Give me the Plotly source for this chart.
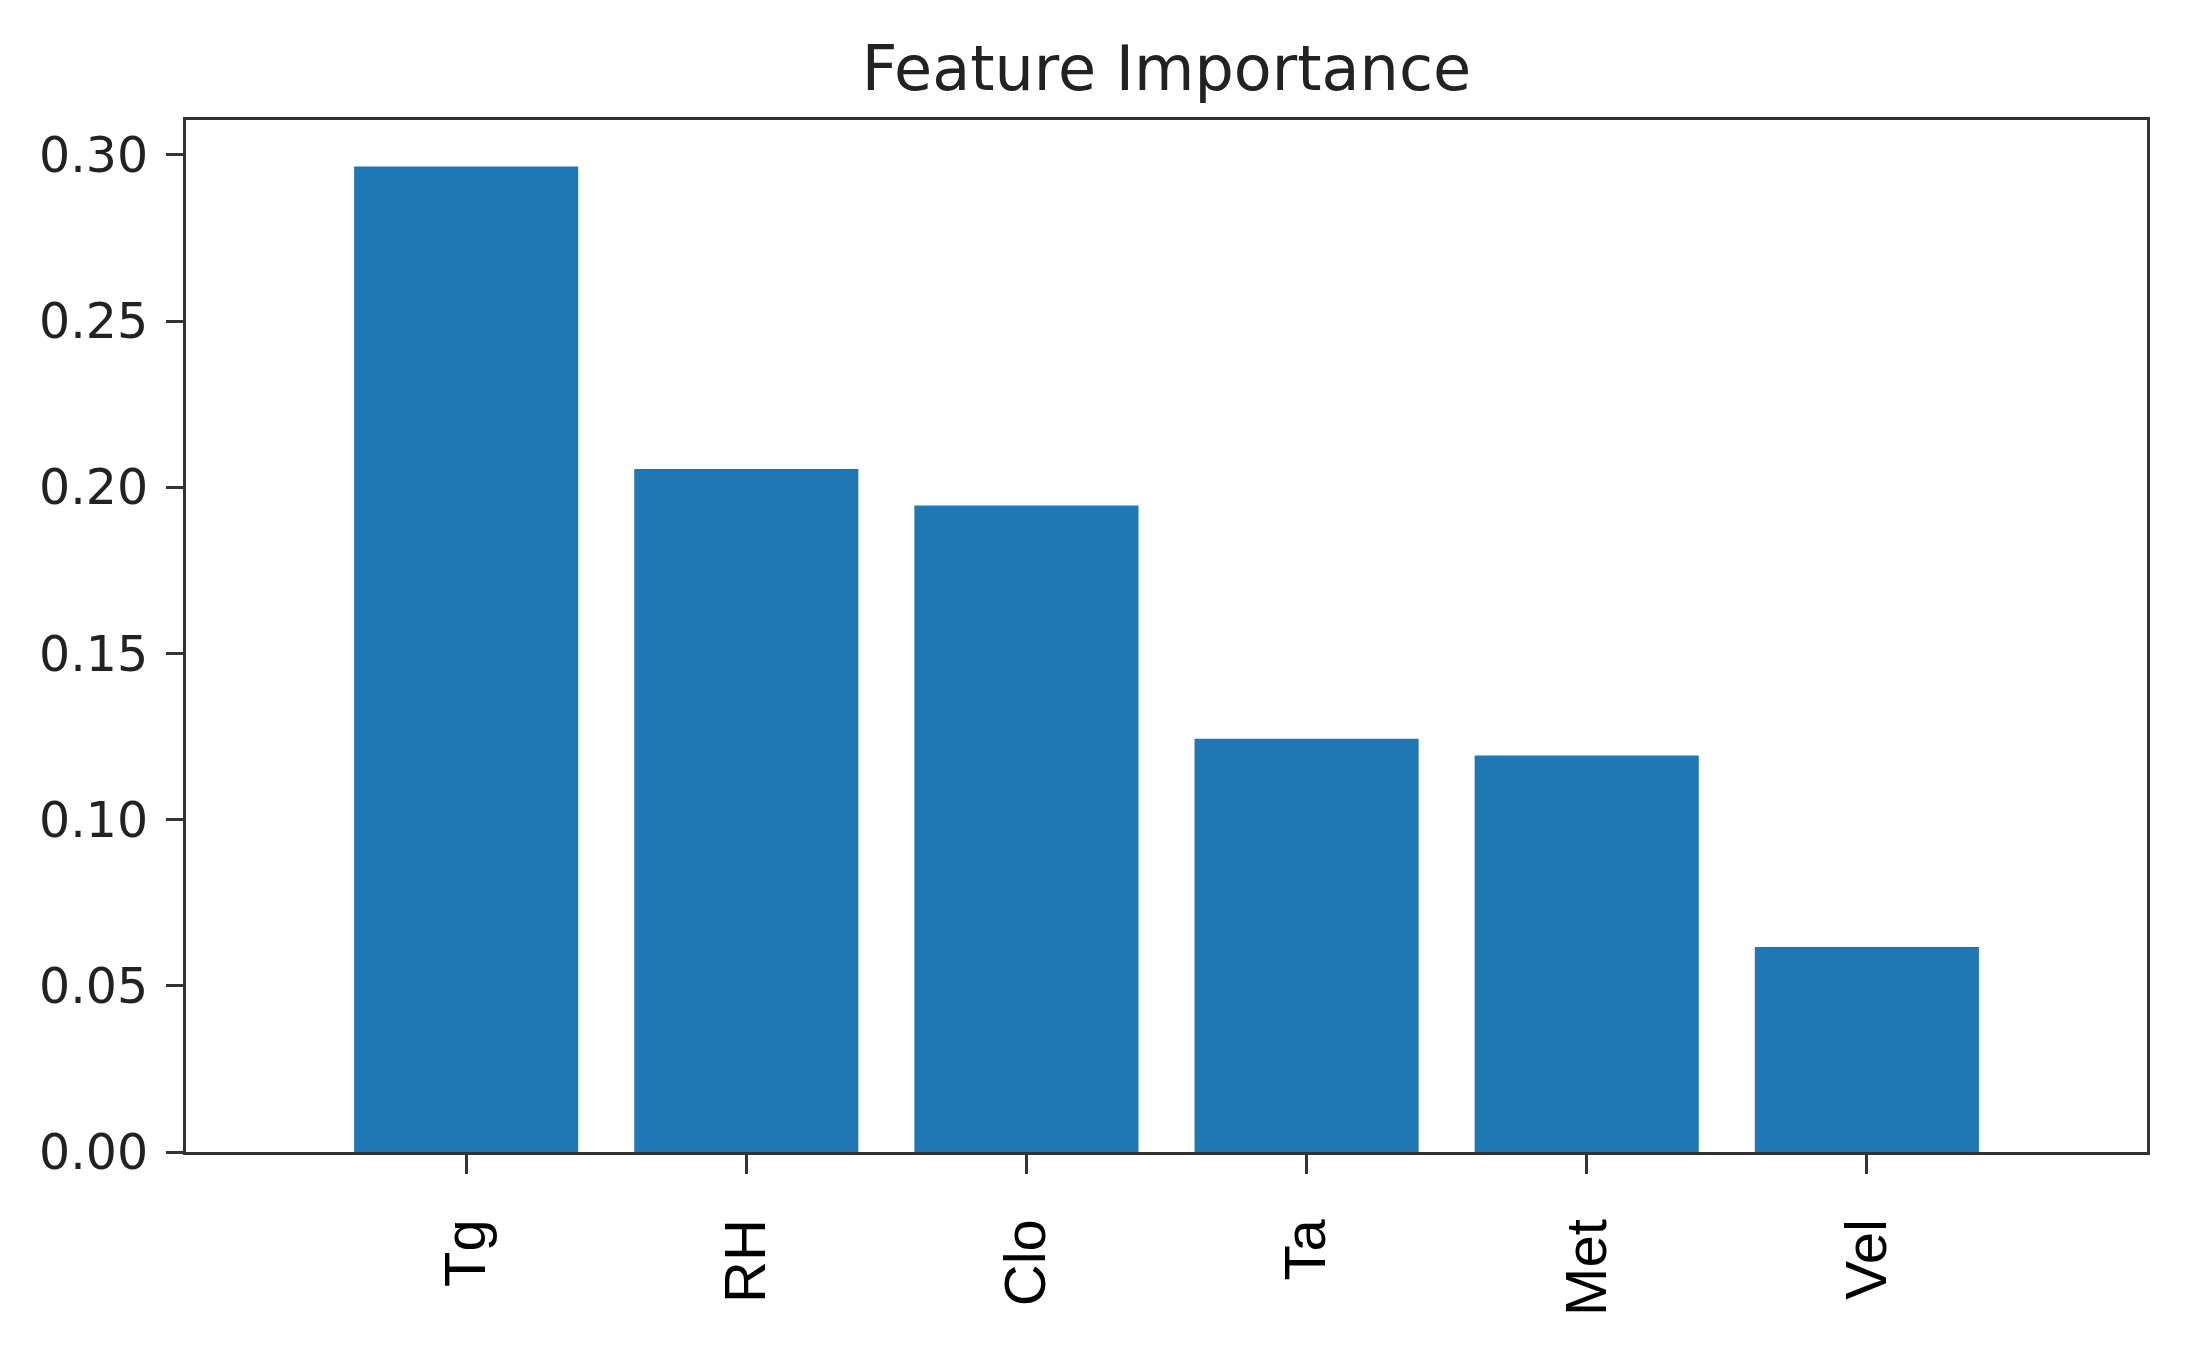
import plotly.graph_objects as go

features = ["Tg", "RH", "Clo", "Ta", "Met", "Vel"]
importance = [0.2965, 0.2055, 0.1945, 0.1243, 0.1193, 0.0617]
y_ticks = [0.0, 0.05, 0.10, 0.15, 0.20, 0.25, 0.30]

# page body adds an 8px margin, so the figure is sized to fit inside the window
W, H = 2185, 1345
L, R, T, B = 178, 46, 112, 201

fig = go.Figure()
fig.add_trace(go.Bar(x=list(range(len(features))), y=importance,
                     marker=dict(color="#1f77b4", line=dict(width=0)),
                     width=0.8))

fig.update_layout(
        width=W, height=H,
        margin=dict(l=L, r=R, t=T, b=B, pad=0),
        plot_bgcolor="white", paper_bgcolor="white",
        showlegend=False,
        title=dict(text="Feature Importance", xref="container",
                   x=(L + W - R) / 2 / W, xanchor="center",
                   y=1 - 60 / H, yanchor="middle",
                   font=dict(family="DejaVu Sans", size=62, color="#222222")),
)

fig.update_xaxes(range=[-1, 6], tickmode="array", tickvals=list(range(len(features))),
                 ticktext=features, tickangle=-90,
                 ticks="outside", ticklen=19, tickwidth=3, tickcolor="#333333",
                 ticklabelstandoff=22,
                 tickfont=dict(family="Liberation Sans", size=58, color="black"),
                 showline=True, linecolor="#333333", linewidth=3, mirror=True,
                 showgrid=False, zeroline=False)

fig.update_yaxes(range=[0, 0.3105], tickmode="array", tickvals=y_ticks,
                 ticktext=["%.2f" % v for v in y_ticks],
                 ticks="outside", ticklen=17, tickwidth=3, tickcolor="#333333",
                 ticklabelstandoff=8,
                 tickfont=dict(family="DejaVu Sans", size=49, color="#222222"),
                 showline=True, linecolor="#333333", linewidth=3, mirror=True,
                 showgrid=False, zeroline=False)

fig.write_html("out.html")
